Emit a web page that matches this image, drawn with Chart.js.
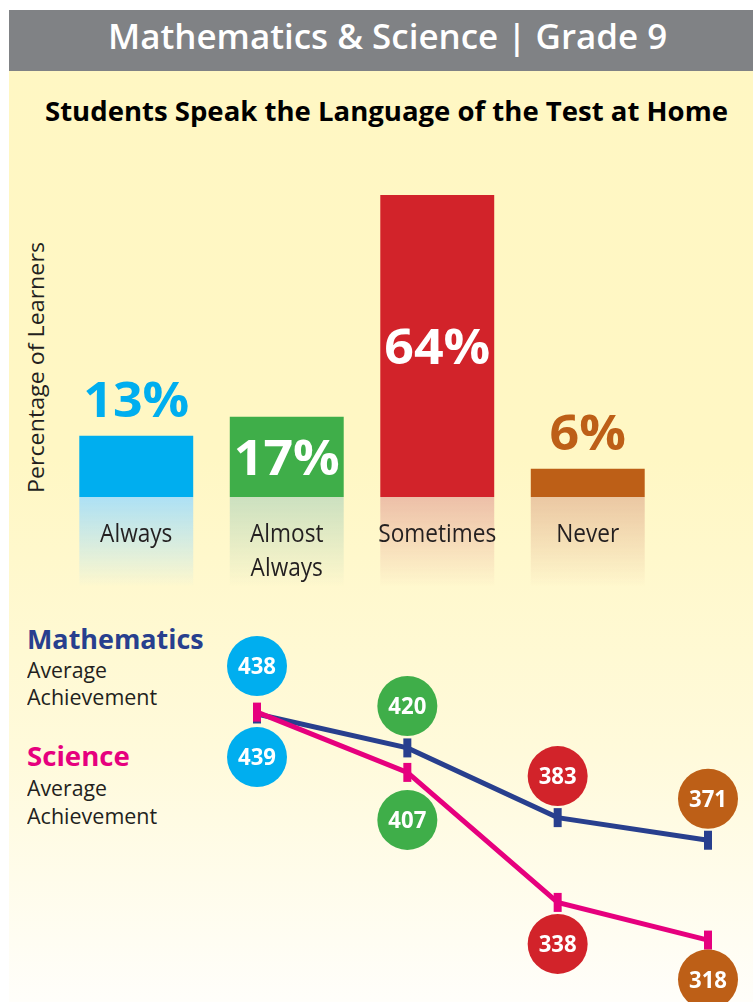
<!DOCTYPE html>
<html><head><meta charset="utf-8">
<script src="https://cdn.jsdelivr.net/npm/chart.js@4/dist/chart.umd.min.js"></script>
<style>
html,body{margin:0;padding:0;width:753px;height:1002px;overflow:hidden;background:#fff;font-family:'Open Sans',sans-serif;}
#panel{position:absolute;left:9px;top:10px;width:744px;height:992px;background:linear-gradient(to bottom,#fff7c3 0%,#fff7c4 45%,#fffadb 75%,#fffefa 100%);}
#header{position:absolute;left:9px;top:10px;width:744px;height:61px;background:#808285;}
.t{position:absolute;white-space:nowrap;line-height:1;transform-origin:0 0;}
canvas{position:absolute;left:0;}
</style></head><body>
<div id="panel"></div>
<div id="header"></div>
<div class="t" data-w="559" style="left:108px;top:18px;font-size:35px;font-weight:600;color:#fff">Mathematics &amp; Science | Grade 9</div>
<div class="t" data-w="683" style="left:45px;top:98px;font-size:26px;font-weight:700;color:#000">Students Speak the Language of the Test at Home</div>
<div class="t" data-w="251" data-rot="-90" style="left:26px;top:493px;font-size:21px;color:#231f20">Percentage of Learners</div>

<div class="t" data-w="177" style="left:27px;top:625.5px;font-size:26px;font-weight:700;color:#283f8e">Mathematics</div>
<div class="t" data-w="80" style="left:27px;top:659.6px;font-size:21px;color:#231f20">Average</div>
<div class="t" data-w="130" style="left:27px;top:687.3px;font-size:21px;color:#231f20">Achievement</div>
<div class="t" data-w="103" style="left:27px;top:742.5px;font-size:26px;font-weight:700;color:#e6007e">Science</div>
<div class="t" data-w="80" style="left:27px;top:778px;font-size:21px;color:#231f20">Average</div>
<div class="t" data-w="130" style="left:27px;top:806.3px;font-size:21px;color:#231f20">Achievement</div>

<canvas id="bars" width="753" height="440" style="top:160px;width:753px;height:440px"></canvas>
<canvas id="lines" width="753" height="402" style="top:600px;width:753px;height:402px"></canvas>

<script>
// ---- data ----
const categories = ['Always', 'Almost Always', 'Sometimes', 'Never'];
const categoryLines = [['Always'], ['Almost', 'Always'], ['Sometimes'], ['Never']];
const percentages = [13, 17, 64, 6];
const percentLabels = ['13%', '17%', '64%', '6%'];
const mathScores = [438, 420, 383, 371];
const scienceScores = [439, 407, 338, 318];

// ---- styles ----
const catColors = ['#00aeef', '#3fae49', '#d2232a', '#bd5f17'];
const tintColors = ['173,224,245', '204,224,192', '237,191,168', '235,199,163'];
const mathColor = '#283f8e';
const sciColor = '#e6007e';
const FONT = '"Open Sans", sans-serif';

function fitTexts(){
  document.querySelectorAll('.t[data-w]').forEach(el=>{
    el.style.transform='';
    const k = parseFloat(el.dataset.w)/el.offsetWidth;
    const rot = el.dataset.rot ? 'rotate(' + el.dataset.rot + 'deg) ' : '';
    el.style.transform = rot + 'scaleX(' + k + ')';
  });
}
fitTexts();
if (document.fonts && document.fonts.ready) document.fonts.ready.then(fitTexts);

function drawFit(ctx, text, x, y, k){
  ctx.save();
  ctx.translate(x, y);
  ctx.scale(k, 1);
  ctx.fillText(text, 0, 0);
  ctx.restore();
}

const barDecor = {
  id: 'barDecor',
  beforeDatasetsDraw(chart){
    const ctx = chart.ctx, meta = chart.getDatasetMeta(0), base = chart.chartArea.bottom;
    meta.data.forEach((bar, i)=>{
      const w = bar.width, x0 = bar.x - w/2;
      const g = ctx.createLinearGradient(0, base, 0, base + 90);
      g.addColorStop(0, 'rgba(' + tintColors[i] + ',1)');
      g.addColorStop(1, 'rgba(' + tintColors[i] + ',0)');
      ctx.fillStyle = g;
      ctx.fillRect(x0, base, w, 90);
    });
  },
  afterDatasetsDraw(chart){
    const ctx = chart.ctx, meta = chart.getDatasetMeta(0), base = chart.chartArea.bottom;
    ctx.textAlign = 'center';
    ctx.textBaseline = 'alphabetic';
    // category labels
    ctx.font = '26px ' + FONT;
    ctx.fillStyle = '#231f20';
    const kc = 0.5 * (76.6 / ctx.measureText('Always').width + 111 / ctx.measureText('Sometimes').width);
    meta.data.forEach((bar, i)=>{
      categoryLines[i].forEach((ln, j)=>{
        drawFit(ctx, ln, bar.x, base + 44.5 + j*34, kc);
      });
    });
    // value labels
    ctx.font = 'bold 49px ' + FONT;
    const kv = 106 / ctx.measureText('64%').width;
    meta.data.forEach((bar, i)=>{
      const v = percentages[i];
      const top = bar.y;
      let y, col;
      if (v >= 15){ y = (top + base)/2 + 18.5; col = '#ffffff'; }
      else { y = top - 19; col = catColors[i]; }
      ctx.fillStyle = col;
      drawFit(ctx, percentLabels[i], bar.x, y, kv);
    });
  }
};

new Chart(document.getElementById('bars'), {
  type: 'bar',
  data: {
    labels: categories,
    datasets: [{
      data: percentages,
      backgroundColor: catColors,
      borderWidth: 0,
      barPercentage: 0.757,
      categoryPercentage: 1
    }]
  },
  options: {
    responsive: false,
    animation: false,
    layout: { padding: { left: 61, right: 90, top: 6.6, bottom: 103 } },
    scales: {
      x: { display: false },
      y: { display: false, min: 0, max: 70 }
    },
    plugins: { legend: { display: false }, tooltip: { enabled: false } }
  },
  plugins: [barDecor]
});

const mathCircleOffsets = [-48, -42, -41.5, -41.5];
const sciCircleOffsets = [45, 47.5, 41.5, 39.5];

const bubbles = {
  id: 'bubbles',
  afterDatasetsDraw(chart){
    const ctx = chart.ctx;
    ctx.font = 'bold 23px ' + FONT;
    const kb = 38 / ctx.measureText('438').width;
    ctx.textAlign = 'center';
    ctx.textBaseline = 'alphabetic';
    chart.data.datasets.forEach((ds, di)=>{
      const meta = chart.getDatasetMeta(di);
      const offs = ds.label === 'Mathematics' ? mathCircleOffsets : sciCircleOffsets;
      meta.data.forEach((pt, i)=>{
        const cx = pt.x, cy = pt.y + offs[i];
        ctx.beginPath();
        ctx.arc(cx, cy, 30, 0, Math.PI*2);
        ctx.fillStyle = catColors[i];
        ctx.fill();
        ctx.fillStyle = '#ffffff';
        drawFit(ctx, String(ds.data[i]), cx, cy + 8.3, kb);
      });
    });
  }
};

new Chart(document.getElementById('lines'), {
  type: 'line',
  data: {
    labels: categories,
    datasets: [
      { label: 'Mathematics', data: mathScores, borderColor: mathColor, pointBorderColor: mathColor,
        pointBackgroundColor: mathColor, order: 2 },
      { label: 'Science', data: scienceScores, borderColor: sciColor, pointBorderColor: sciColor,
        pointBackgroundColor: sciColor, order: 1 }
    ]
  },
  options: {
    responsive: false,
    animation: false,
    layout: { padding: { left: 257, right: 45, top: 72.55, bottom: 28 } },
    datasets: { line: { clip: false } },
    elements: {
      line: { borderWidth: 5, tension: 0, fill: false },
      point: { pointStyle: 'line', rotation: 90, radius: 9.5, borderWidth: 8, hoverRadius: 9.5 }
    },
    scales: {
      x: { display: false, offset: false },
      y: { display: false, min: 300, max: 460 }
    },
    plugins: { legend: { display: false }, tooltip: { enabled: false } }
  },
  plugins: [bubbles]
});
</script>
</body></html>
